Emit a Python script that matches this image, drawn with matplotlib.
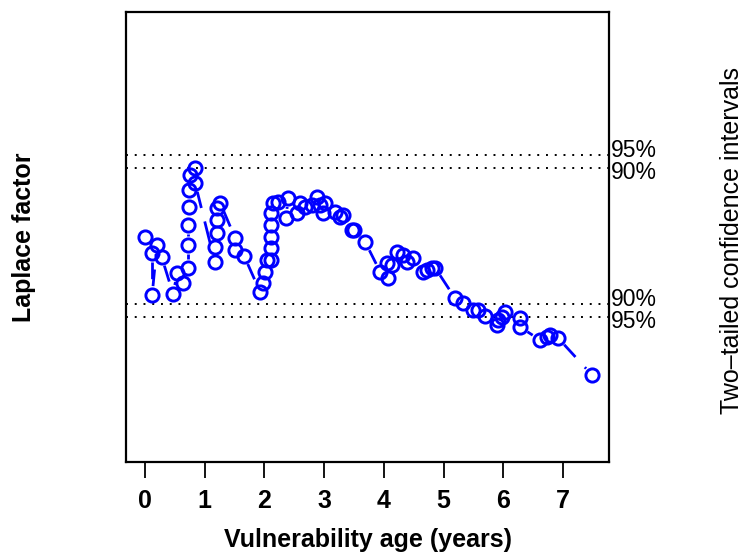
import numpy as np
import matplotlib
matplotlib.use('Agg')
import matplotlib.pyplot as plt

# Laplace factor vs vulnerability age
age = [0.00, 0.12, 0.12, 0.20, 0.28, 0.47, 0.54, 0.64, 0.72, 0.72,
       0.72, 0.74, 0.74, 0.75, 0.84, 0.84, 1.17, 1.17, 1.21, 1.21,
       1.21, 1.26, 1.51, 1.51, 1.66, 1.93, 1.98, 2.01, 2.04, 2.11,
       2.11, 2.11, 2.11, 2.11, 2.14, 2.23, 2.36, 2.40, 2.55, 2.60,
       2.68, 2.80, 2.88, 2.93, 2.98, 3.02, 3.18, 3.27, 3.32, 3.47,
       3.50, 3.69, 3.94, 4.05, 4.07, 4.14, 4.22, 4.32, 4.39, 4.49,
       4.66, 4.72, 4.81, 4.86, 5.19, 5.33, 5.49, 5.58, 5.70, 5.90,
       5.91, 5.98, 6.03, 6.28, 6.28, 6.62, 6.73, 6.78, 6.92, 7.49]
laplace = [-0.02, -0.41, -1.43, -0.22, -0.51, -1.40, -0.90, -1.14, -0.77, -0.22,
           0.27, 0.70, 1.11, 1.48, 1.65, 1.28, -0.63, -0.27, 0.07, 0.39,
           0.68, 0.80, -0.05, -0.34, -0.48, -1.36, -1.14, -0.87, -0.58, -0.58,
           -0.29, -0.02, 0.27, 0.56, 0.80, 0.82, 0.44, 0.92, 0.56, 0.80,
           0.70, 0.75, 0.94, 0.75, 0.56, 0.80, 0.58, 0.46, 0.51, 0.15,
           0.15, -0.15, -0.87, -0.65, -1.02, -0.70, -0.39, -0.46, -0.63, -0.53,
           -0.87, -0.82, -0.77, -0.77, -1.50, -1.62, -1.79, -1.79, -1.94, -2.15,
           -2.03, -1.96, -1.84, -1.99, -2.20, -2.52, -2.45, -2.40, -2.47, -3.37]

# two-tailed confidence bounds
bounds = [1.96, 1.645, -1.645, -1.96]
bound_labels = ['95%', '90%', '90%', '95%']
label_shift = [0.1, -0.1, 0.1, -0.1]

plt.rcParams['font.family'] = ['Liberation Sans', 'DejaVu Sans']

fig = plt.figure(figsize=(7.43, 5.52), dpi=100)
ax = fig.add_axes([126 / 743, 90 / 552, 483 / 743, 450 / 552])
ax.set_xlim(-0.318, 7.772)
ax.set_ylim(-5.47, 5.42)

for b in bounds:
    ax.axhline(b, color='black', lw=1.4, linestyle=(0, (1, 3.5)))
for b, lab, s in zip(bounds, bound_labels, label_shift):
    ax.text(1.004, b + s, lab, transform=ax.get_yaxis_transform(),
            ha='left', va='center', fontsize=16.5, clip_on=False)

# R type="b": connecting lines leave a gap around every point
pts = ax.transData.transform(np.column_stack([age, laplace]))
inv = ax.transData.inverted()
gap = 9.0
for p1, p2 in zip(pts[:-1], pts[1:]):
    d = p2 - p1
    L = np.hypot(*d)
    if L <= 2 * gap:
        continue
    u = d / L
    seg = inv.transform(np.array([p1 + u * gap, p2 - u * gap]))
    ax.plot(seg[:, 0], seg[:, 1], color='blue', lw=2, linestyle=(2, (8, 5)))

ax.plot(age, laplace, linestyle='none', marker='o', markersize=9.5,
        markerfacecolor='none', markeredgecolor='blue', markeredgewidth=2.1)

ax.set_xticks(range(8))
ax.set_xticklabels([str(i) for i in range(8)], fontsize=18, fontweight='bold')
ax.tick_params(axis='x', direction='out', length=11.5, width=1.3, pad=8)
ax.set_yticks([])
for sp in ax.spines.values():
    sp.set_linewidth(1.6)

fig.text(368 / 743, 1 - 540 / 552, 'Vulnerability age (years)', ha='center', va='center',
         fontsize=18, fontweight='bold')
fig.text(24 / 743, 1 - 237 / 552, 'Laplace factor', ha='center', va='center',
         rotation=90, fontsize=18, fontweight='bold')
fig.text(732 / 743, 1 - 241 / 552, 'Two\u2013tailed confidence intervals', ha='center',
         va='center', rotation=90, fontsize=18)

fig.savefig('out.png', dpi=100)
